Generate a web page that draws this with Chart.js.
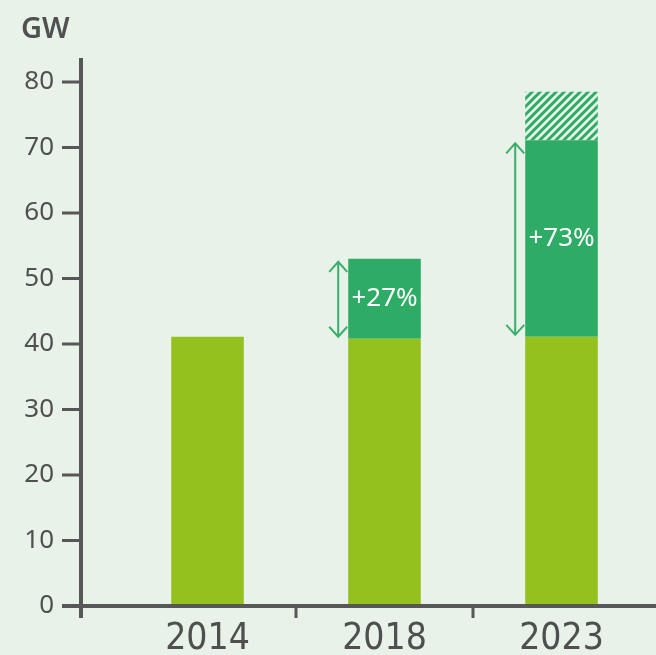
<!DOCTYPE html>
<html>
<head>
<meta charset="utf-8">
<script src="https://cdn.jsdelivr.net/npm/chart.js@4"></script>
<style>
  html, body { margin: 0; padding: 0; background: #e8f2e9; }
  canvas { display: block; }
</style>
</head>
<body>
<canvas id="chart" width="656" height="655"></canvas>
<script>
// values (GW)
const years = ['2014', '2018', '2023'];
const baseGW = [41.1, 40.8, 41.1];
const growthGW = [0, 12.2, 30.0];
const plannedGW = [0, 0, 7.4];
const growthLabels = ['+27%', '+73%'];

const bg = '#e8f2e9';
const lightGreen = '#95c11f';
const darkGreen = '#2eac66';
const axisGrey = '#575757';
const fontFamily = '"Noto Sans", "Open Sans", sans-serif';
const narrowFont = '"DejaVu Sans Condensed", "Noto Sans", sans-serif';

// diagonal hatch for the planned part
function makeHatch() {
  const c = document.createElement('canvas');
  c.width = 8; c.height = 8;
  const g = c.getContext('2d');
  g.fillStyle = bg;
  g.fillRect(0, 0, 8, 8);
  g.strokeStyle = darkGreen;
  g.lineWidth = 3;
  g.beginPath();
  g.moveTo(0, 8); g.lineTo(8, 0);
  g.moveTo(-2, 2); g.lineTo(2, -2);
  g.moveTo(6, 10); g.lineTo(10, 6);
  g.stroke();
  return g.createPattern(c, 'repeat');
}

const axesPlugin = {
  id: 'axesPlugin',
  afterDatasetsDraw(chart) {
    const ctx = chart.ctx;
    const { x, y } = chart.scales;
    const area = chart.chartArea;
    const axisX = 81;
    ctx.save();
    ctx.strokeStyle = axisGrey;
    ctx.lineCap = 'butt';

    // y axis line
    ctx.lineWidth = 4;
    ctx.beginPath();
    ctx.moveTo(axisX, area.top - 24);
    ctx.lineTo(axisX, area.bottom + 12);
    ctx.stroke();

    // y tick marks
    ctx.lineWidth = 3;
    y.ticks.forEach(t => {
      const py = y.getPixelForValue(t.value);
      ctx.beginPath();
      ctx.moveTo(62, py);
      ctx.lineTo(axisX, py);
      ctx.stroke();
    });

    // x axis line
    ctx.lineWidth = 4;
    ctx.beginPath();
    ctx.moveTo(62, area.bottom);
    ctx.lineTo(chart.width, area.bottom);
    ctx.stroke();

    // x tick marks between categories
    ctx.lineWidth = 3;
    const step = x.getPixelForValue(1) - x.getPixelForValue(0);
    for (let i = 0; i < years.length - 1; i++) {
      const px = x.getPixelForValue(i) + step / 2;
      ctx.beginPath();
      ctx.moveTo(px, area.bottom);
      ctx.lineTo(px, area.bottom + 12);
      ctx.stroke();
    }

    // unit label
    ctx.fillStyle = '#505050';
    ctx.font = '600 29px ' + fontFamily;
    ctx.textAlign = 'left';
    ctx.textBaseline = 'alphabetic';
    ctx.fillText('GW', 21, 38);

    // growth arrows and labels
    const meta = chart.getDatasetMeta(1);
    let k = 0;
    growthGW.forEach((g, i) => {
      if (!g) return;
      const bar = meta.data[i];
      const left = bar.x - bar.width / 2;
      const ax = left - 10;
      const y1 = y.getPixelForValue(baseGW[i]) - 2;
      const y2 = y.getPixelForValue(baseGW[i] + g) + 3;
      ctx.strokeStyle = '#3aae6c';
      ctx.lineWidth = 2;
      ctx.beginPath();
      ctx.moveTo(ax, y1);
      ctx.lineTo(ax, y2);
      ctx.moveTo(ax - 9, y2 + 10); ctx.lineTo(ax, y2); ctx.lineTo(ax + 9, y2 + 10);
      ctx.moveTo(ax - 9, y1 - 10); ctx.lineTo(ax, y1); ctx.lineTo(ax + 9, y1 - 10);
      ctx.stroke();

      ctx.fillStyle = '#ffffff';
      ctx.font = '26px ' + fontFamily;
      ctx.textAlign = 'center';
      ctx.textBaseline = 'middle';
      const my = (y.getPixelForValue(baseGW[i]) + y.getPixelForValue(baseGW[i] + g)) / 2;
      ctx.fillText(growthLabels[k++], bar.x, my);
    });
    ctx.restore();
  }
};

const barOpts = { barPercentage: 0.82, categoryPercentage: 0.5, borderWidth: 0 };

new Chart(document.getElementById('chart'), {
  type: 'bar',
  data: {
    labels: years,
    datasets: [
      Object.assign({ label: 'Base', data: baseGW, backgroundColor: lightGreen }, barOpts),
      Object.assign({ label: 'Growth', data: growthGW, backgroundColor: darkGreen }, barOpts),
      Object.assign({ label: 'Planned', data: plannedGW, backgroundColor: makeHatch() }, barOpts)
    ]
  },
  options: {
    responsive: false,
    devicePixelRatio: 1,
    animation: false,
    layout: { padding: { top: 82, right: 6, bottom: 0, left: 0 } },
    plugins: {
      legend: { display: false },
      tooltip: { enabled: false }
    },
    scales: {
      x: {
        stacked: true,
        grid: { display: false, drawTicks: false },
        border: { display: false },
        ticks: {
          color: '#4f4f4f',
          font: { family: narrowFont, size: 37 },
          padding: 11
        },
        afterFit(scale) { scale.height = 49; }
      },
      y: {
        stacked: true,
        min: 0,
        max: 80,
        grid: { display: false, drawTicks: false },
        border: { display: false },
        ticks: {
          stepSize: 10,
          color: '#505050',
          font: { family: fontFamily, size: 26 },
          padding: 65
        },
        afterFit(scale) {
          scale.width = 119;
          scale.paddingTop = 0;
          scale.paddingBottom = 0;
        }
      }
    }
  },
  plugins: [axesPlugin]
});
</script>
</body>
</html>
